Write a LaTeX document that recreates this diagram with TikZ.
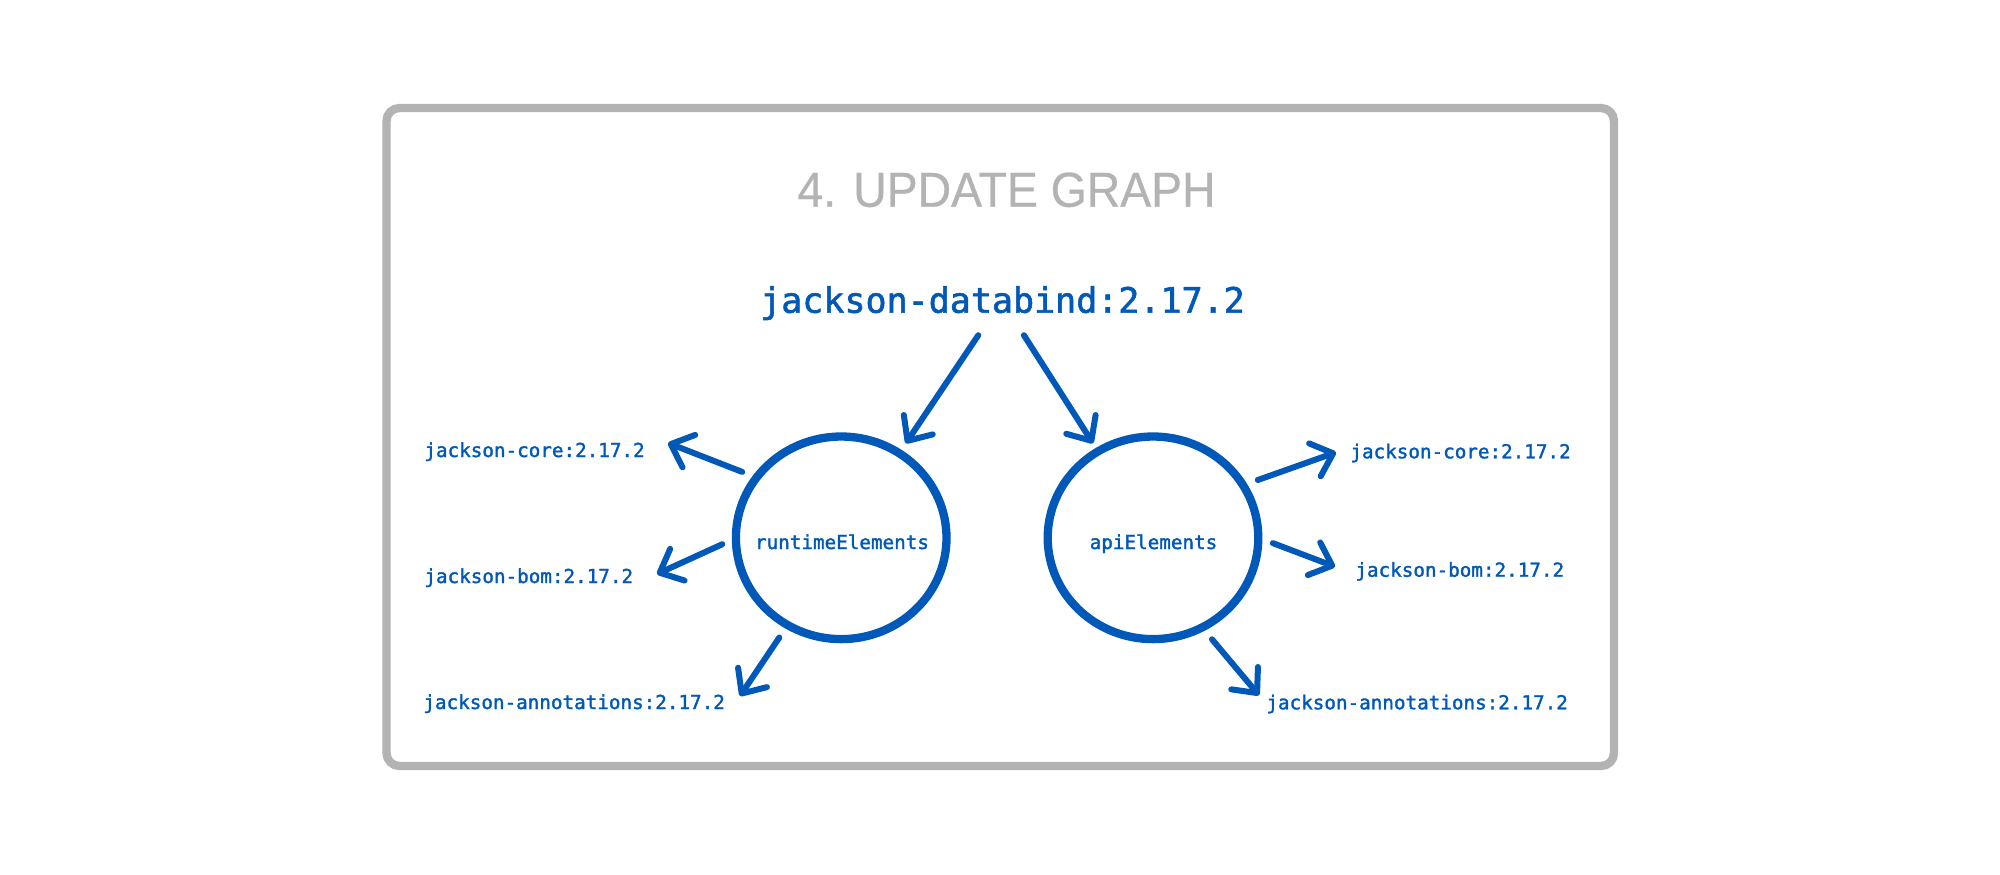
\documentclass[tikz,border=0pt]{standalone}
\usepackage{fontspec}
\usepackage{graphicx}
\usetikzlibrary{arrows.meta,shapes.geometric}
\newfontfamily\monof[FakeBold=1.6]{DejaVu Sans Mono}
\newfontfamily\titlef[FakeBold=0.6]{Liberation Sans}
\definecolor{jblue}{RGB}{0,88,184}
\definecolor{boxgray}{RGB}{179,179,179}
\begin{document}
\begin{tikzpicture}[x=0.5pt,y=-0.5pt,
  frame/.style={draw=boxgray, line width=4.15pt, rounded corners=6.5pt},
  ring/.style={ellipse, draw=jblue, line width=4.15pt, inner sep=0pt, minimum width=105.3pt, minimum height=101.3pt},
  dep/.style={inner sep=0pt, anchor=base west, text=jblue, font=\monof\fontsize{9.63pt}{11pt}\selectfont},
  cfg/.style={inner sep=0pt, anchor=base, text=jblue, font=\monof\fontsize{9.63pt}{11pt}\selectfont},
  root/.style={inner sep=0pt, anchor=base, text=jblue, font=\monof\fontsize{17.5pt}{20pt}\selectfont},
  ttl/.style={inner sep=0pt, anchor=base, text=boxgray, font=\titlef\fontsize{24.5pt}{28pt}\selectfont},
  arr/.style={draw=jblue, line width=3pt, line cap=round, line join=round,
    -{Straight Barb[length=9.7pt, width=17.4pt, round]}}]
\useasboundingbox (0,0) rectangle (2000,874);
\fill[white] (0,0) rectangle (2000,874);
\draw[frame] (386.5,108) rectangle (1614,766);
\node[ttl] (title) at (1006.5,206.7) {\scalebox{0.946}[1]{4. UPDATE GRAPH}};
\node[root] (db) at (1002.5,312.7) {jackson-databind:2.17.2};
\node[ring] (rt) at (841.2,537.8) {};
\node[ring] (api) at (1153,537.8) {};
\node[cfg] (rtl) at (842,549) {runtimeElements};
\node[cfg] (apil) at (1153.5,549) {apiElements};
\node[dep] (core1) at (424,457) {jackson-core:2.17.2};
\node[dep] (bom1) at (424,583) {jackson-bom:2.17.2};
\node[dep] (ann1) at (423,709) {jackson-annotations:2.17.2};
\node[dep] (core2) at (1350,458.3) {jackson-core:2.17.2};
\node[dep] (bom2) at (1355,576.7) {jackson-bom:2.17.2};
\node[dep] (ann2) at (1266,709.3) {jackson-annotations:2.17.2};
% root to configurations
\draw[arr] ([shift={(-24.2,22.5)}]db.base) -- ([shift={(64.6,-94.5)}]rt.center);
\draw[arr] ([shift={(21.4,22.5)}]db.base) -- ([shift={(-60,-94.5)}]api.center);
% runtimeElements dependencies
\draw[arr] ([shift={(-99,-65.9)}]rt.center) -- ([shift={(244,-14)}]core1.base west);
\draw[arr] ([shift={(-118.9,6.4)}]rt.center) -- ([shift={(233,-9)}]bom1.base west);
\draw[arr] ([shift={(-61.9,99.7)}]rt.center) -- ([shift={(317,-13)}]ann1.base west);
% apiElements dependencies
\draw[arr] ([shift={(104.8,-57.8)}]api.center) -- ([shift={(-14,-6)}]core2.base west);
\draw[arr] ([shift={(119.8,5.3)}]api.center) -- ([shift={(-20,-10)}]bom2.base west);
\draw[arr] ([shift={(59,101.5)}]api.center) -- ([shift={(-7,-14)}]ann2.base west);
\end{tikzpicture}
\end{document}
